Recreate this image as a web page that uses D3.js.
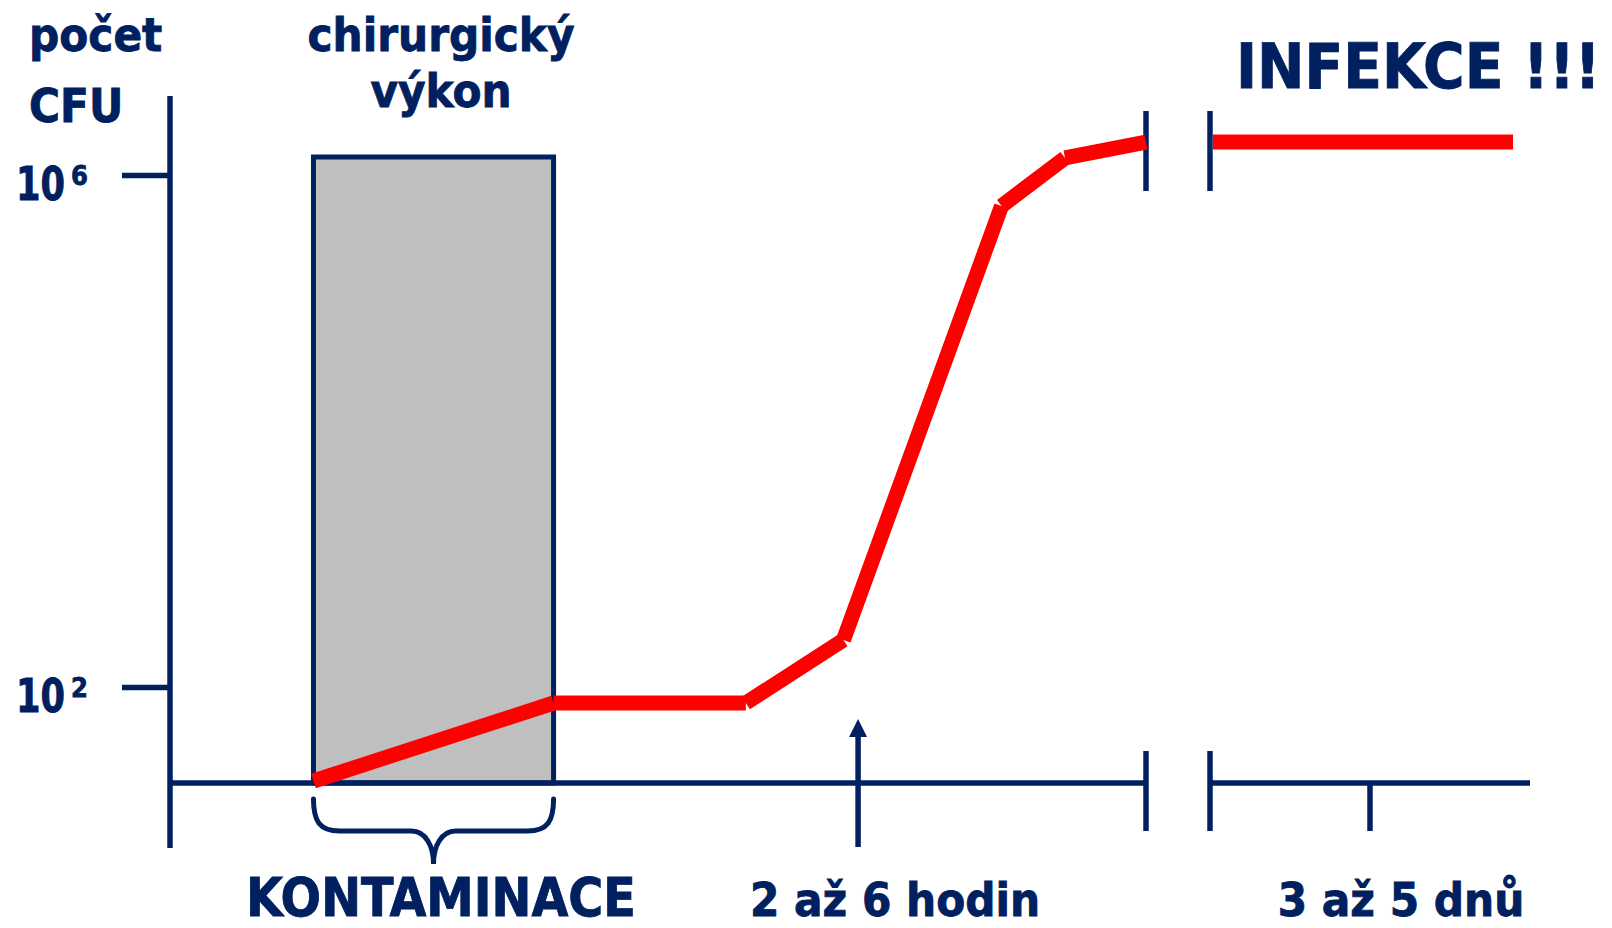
<!DOCTYPE html>
<html>
<head>
<meta charset="utf-8">
<script src="https://cdn.jsdelivr.net/npm/d3@7"></script>
<style>
  html, body { margin: 0; padding: 0; background: #fff; }
  svg text { font-family: "DejaVu Sans Condensed", "DejaVu Sans", sans-serif; font-stretch: condensed; font-weight: bold; fill: #002060; stroke: #002060; stroke-width: 0.8px; }
</style>
</head>
<body>
<svg id="chart" width="1612" height="928"></svg>
<script>
// casova osa v libovolnych jednotkach (0-100 pred prerusenim, 0-100 za nim)
const hoursT = [14.7, 39.3, 59.0, 69.0, 85.2, 91.7, 100];
const hoursCFU = [18.5, 75, 75, 233, 573000, 1360000, 1810000];
const daysT = [0, 94.7];
const daysCFU = [1810000, 1810000];

const surgery = [14.7, 39.3];      // chirurgicky vykon
const arrowT = 70.5;               // 2 az 6 hodin
const dayTick = 50;                // tick za prerusenim
const yTicks = [1e2, 1e6];
const yTickExp = ["2", "6"];

const navy = "#002060";
const svg = d3.select("#chart");

// meritka
const x1 = d3.scaleLinear().domain([0, 100]).range([170, 1146]);
const x2 = d3.scaleLinear().domain([0, 100]).range([1210, 1530]);
const y = d3.scaleLog().domain([1e2, 1e6]).range([687, 175]);
const yBase = 783;

// sedy obdelnik - chirurgicky vykon
svg.append("rect")
  .attr("x", x1(surgery[0]))
  .attr("y", 157)
  .attr("width", x1(surgery[1]) - x1(surgery[0]))
  .attr("height", yBase - 157)
  .attr("fill", "#bfbfbf")
  .attr("stroke", navy)
  .attr("stroke-width", 5);

// osa y
svg.append("line")
  .attr("x1", 170).attr("x2", 170).attr("y1", 96).attr("y2", 848)
  .attr("stroke", navy).attr("stroke-width", 5.5);

const yAxis = svg.append("g")
  .attr("transform", "translate(170,0)")
  .call(d3.axisLeft(y).tickValues(yTicks).tickSize(48).tickSizeOuter(0).tickFormat(""));
yAxis.select(".domain").remove();
yAxis.selectAll("line").attr("stroke", navy).attr("stroke-width", 5.5);

// popisky osy y: 10 s exponentem v jednom textu
yTicks.forEach((v, i) => {
  const t = svg.append("text")
    .attr("x", 16).attr("y", y(v) + 25)
    .attr("font-size", 46);
  t.append("tspan")
    .attr("textLength", 49).attr("lengthAdjust", "spacingAndGlyphs")
    .text("10");
  t.append("tspan")
    .attr("x", 71).attr("dy", -15)
    .attr("font-size", 27)
    .text(yTickExp[i]);
});

// osa x
const axisLine = (xa, xb) => svg.append("line")
  .attr("x1", xa).attr("x2", xb).attr("y1", yBase).attr("y2", yBase)
  .attr("stroke", navy).attr("stroke-width", 5.5);
axisLine(170, x1(100));
axisLine(x2(0), 1530);

// preruseni osy
[x1(100), x2(0)].forEach(xx => {
  [[111, 191], [751, 831]].forEach(([a, b]) => {
    svg.append("line")
      .attr("x1", xx).attr("x2", xx).attr("y1", a).attr("y2", b)
      .attr("stroke", navy).attr("stroke-width", 5.5);
  });
});

// tick za prerusenim
svg.append("line")
  .attr("x1", x2(dayTick)).attr("x2", x2(dayTick)).attr("y1", yBase).attr("y2", 831)
  .attr("stroke", navy).attr("stroke-width", 5.5);

// sipka 2 az 6 hodin
const ax = x1(arrowT);
svg.append("line")
  .attr("x1", ax).attr("x2", ax).attr("y1", 847).attr("y2", 735)
  .attr("stroke", navy).attr("stroke-width", 5.5);
svg.append("path")
  .attr("d", `M${ax - 9},737 L${ax + 9},737 L${ax},719 Z`)
  .attr("fill", navy);

// slozena zavorka pod vykonem
const bl = x1(surgery[0]), br = x1(surgery[1]), bm = (bl + br) / 2;
svg.append("path")
  .attr("d", `M${bl},799 C${bl},821 ${bl + 6},831 ${bl + 26},831 L${bm - 22},831 ` +
             `C${bm - 8},831 ${bm},846 ${bm},864 C${bm},846 ${bm + 8},831 ${bm + 22},831 ` +
             `L${br - 26},831 C${br - 6},831 ${br},821 ${br},799`)
  .attr("fill", "none").attr("stroke", navy).attr("stroke-width", 5)
  .attr("stroke-linecap", "round");

// cervena krivka - jednotlive useky s ostrymi konci
const red = "#ff0000";
const pts = hoursT.map((t, i) => [x1(t), i === 0 ? yBase - 2 : y(hoursCFU[i])]);
d3.pairs(pts).forEach(([a, b]) => {
  svg.append("line")
    .attr("x1", a[0]).attr("y1", a[1]).attr("x2", b[0]).attr("y2", b[1])
    .attr("stroke", red).attr("stroke-width", 15).attr("stroke-linecap", "butt");
});
svg.append("line")
  .attr("x1", x2(daysT[0]) + 3).attr("y1", y(daysCFU[0]))
  .attr("x2", x2(daysT[1])).attr("y2", y(daysCFU[1]))
  .attr("stroke", red).attr("stroke-width", 15);

// popisky
const label = (txt, xx, yy, size, anchor) => svg.append("text")
  .attr("x", xx).attr("y", yy).attr("font-size", size)
  .attr("text-anchor", anchor || "start").text(txt);

label("počet", 29, 51, 47);
label("CFU", 29, 122, 47);
label("chirurgický", 441, 51, 47, "middle");
label("výkon", 441, 107, 47, "middle");
label("INFEKCE !!!", 1236, 88, 63);
label("KONTAMINACE", 441, 916, 53, "middle");
label("2 až 6 hodin", 895, 916, 47, "middle");
label("3 až 5 dnů", 1401, 916, 47, "middle");
</script>
</body>
</html>
